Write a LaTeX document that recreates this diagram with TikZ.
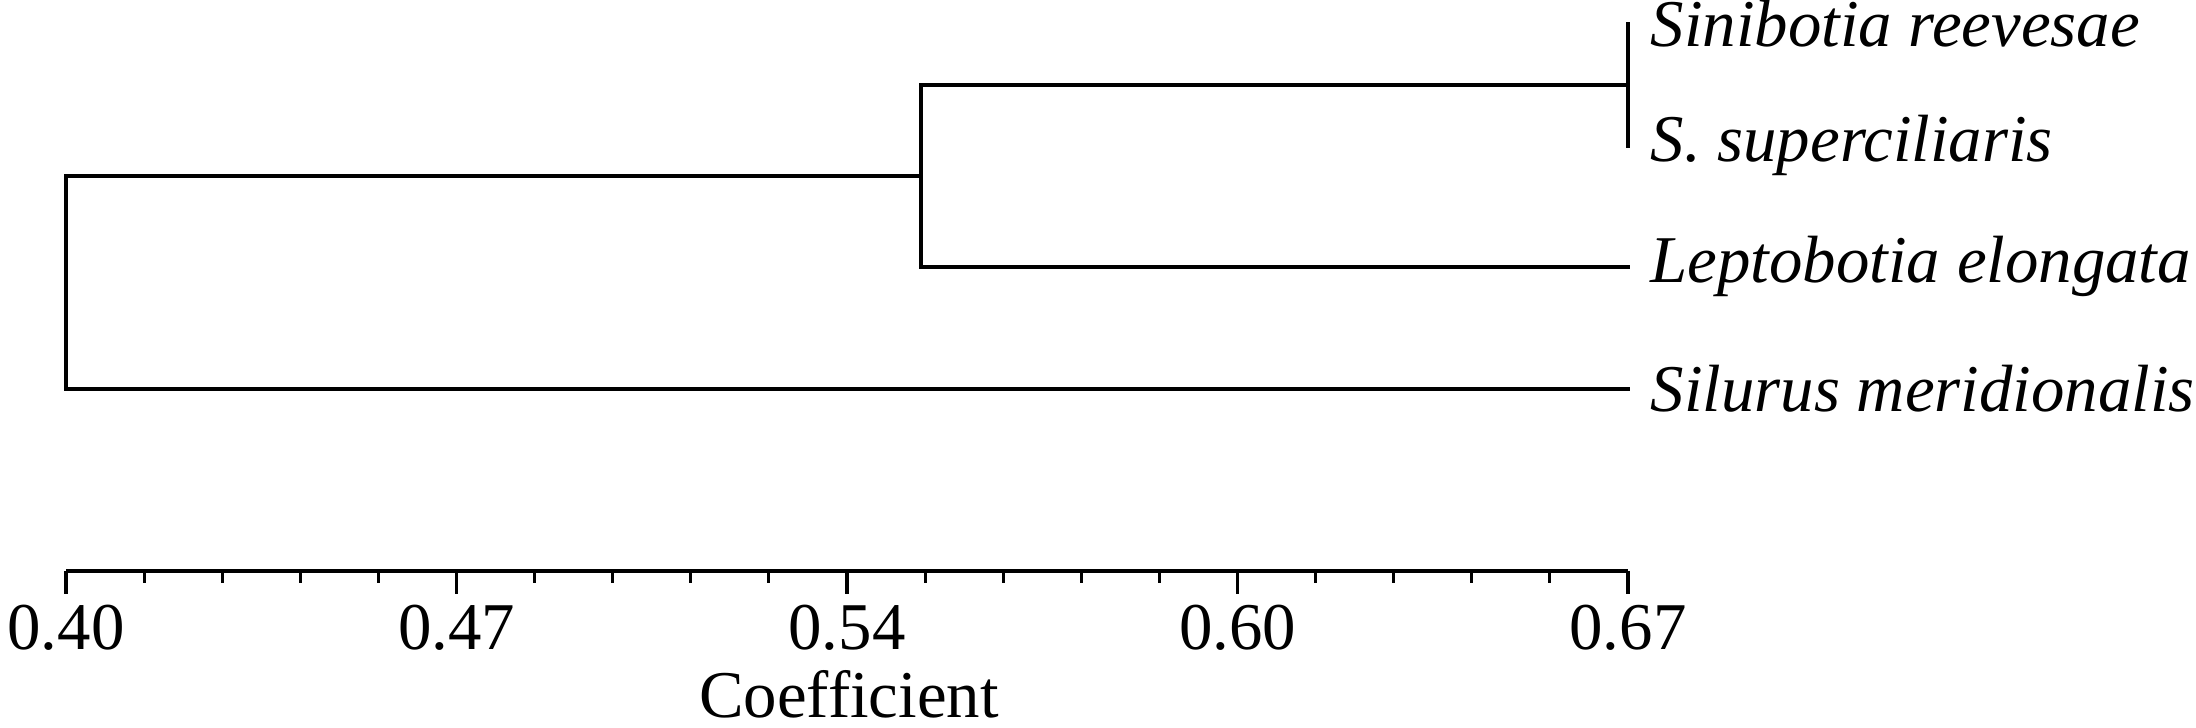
\documentclass[tikz,border=0pt]{standalone}
\usepackage{fontspec}
\setmainfont{Liberation Serif}
\begin{document}
\begin{tikzpicture}[x=0.01cm,y=-0.01cm,
  branch/.style={line width=0.9pt, line cap=rect},
  axisline/.style={line width=1.3pt},
  tickline/.style={line width=0.9pt},
  taxon/.style={font=\fontsize{19}{22}\selectfont\itshape, anchor=base west, inner sep=0pt},
  ticklab/.style={font=\fontsize{19}{22}\selectfont, anchor=base, inner sep=0pt}]
\useasboundingbox (0,0) rectangle (2196,728);
% tree coordinates
\coordinate (rT) at (66,176);
\coordinate (rB) at (66,389);
\coordinate (n2) at (921,176);
\coordinate (n2T) at (921,85);
\coordinate (n2B) at (921,267);
\coordinate (l1) at (1628,85);
\coordinate (l3) at (1628,267);
\coordinate (l4) at (1628,389);
\coordinate (c1) at (1628,24);
\coordinate (c2) at (1628,146);
% branches
\draw[branch] (n2) -- (rT) -- (rB) -- (l4);
\draw[branch] (l1) -- (n2T) -- (n2B) -- (l3);
\draw[branch] (c1) -- (c2);
% taxa
\node[taxon] (t1) at (1650,47) {Sinibotia reevesae};
\node[taxon] (t2) at (1650,162) {S. superciliaris};
\node[taxon] (t3) at (1650,283) {Leptobotia elongata};
\node[taxon] (t4) at (1650,412) {Silurus meridionalis};
% axis
\coordinate (a0) at (66,571);
\coordinate (a1) at (1628,571);
\draw[axisline] (a0) -- (a1);
\foreach \i in {0,...,20}{
  \pgfmathsetmacro{\xx}{66+\i*78.1}
  \pgfmathtruncatemacro{\m}{mod(\i,5)}
  \ifnum\m=0
    \draw[tickline] (\xx,571) -- (\xx,594);
  \else
    \draw[tickline] (\xx,571) -- (\xx,583);
  \fi
}
\node[ticklab] (v0) at (66,650) {0.40};
\node[ticklab] (v1) at (456.5,650) {0.47};
\node[ticklab] (v2) at (847,650) {0.54};
\node[ticklab] (v3) at (1237.5,650) {0.60};
\node[ticklab] (v4) at (1628,650) {0.67};
\node[ticklab] (xl) at (849,718) {Coefficient};
\end{tikzpicture}
\end{document}
